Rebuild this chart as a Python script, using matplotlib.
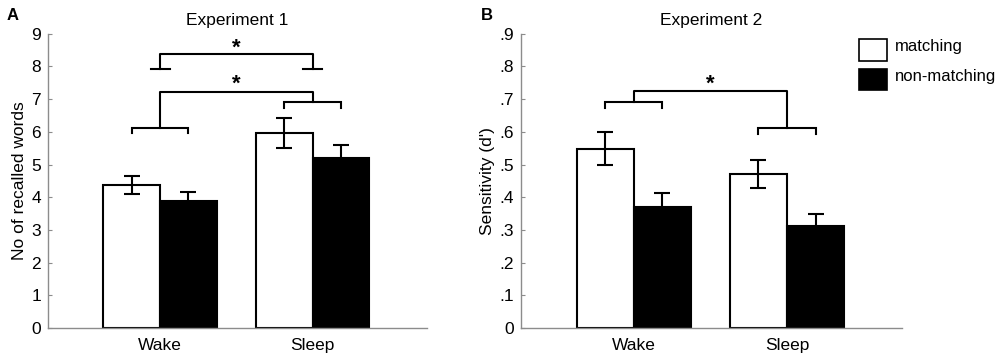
import matplotlib
matplotlib.use('Agg')
import matplotlib.pyplot as plt
from matplotlib.patches import Rectangle

plt.rcParams['font.family'] = ['Liberation Sans', 'DejaVu Sans']

# data
groups = ['Wake', 'Sleep']
exp1_matching = [4.37, 5.97]
exp1_matching_err = [0.28, 0.45]
exp1_nonmatching = [3.88, 5.21]
exp1_nonmatching_err = [0.29, 0.40]

exp2_matching = [0.549, 0.472]
exp2_matching_err = [0.051, 0.043]
exp2_nonmatching = [0.371, 0.312]
exp2_nonmatching_err = [0.043, 0.038]

exp1_ticks = [0, 1, 2, 3, 4, 5, 6, 7, 8, 9]
exp2_ticks = [0, 0.1, 0.2, 0.3, 0.4, 0.5, 0.6, 0.7, 0.8, 0.9]
exp2_ticklabels = ['0', '.1', '.2', '.3', '.4', '.5', '.6', '.7', '.8', '.9']

W = 0.372
FS = 12.5
AXC = '#8c8c8c'

fig = plt.figure(figsize=(10, 3.61), dpi=100)
axA = fig.add_axes([0.048, 0.0914, 0.379, 0.815])
axB = fig.add_axes([0.521, 0.0914, 0.381, 0.815])


def draw_bars(ax, match, match_err, nonmatch, nonmatch_err):
    xs = [1, 2]
    xm = [x - W / 2 for x in xs]
    xn = [x + W / 2 for x in xs]
    ax.bar(xm, match, W, color='white', edgecolor='black', linewidth=1.5, zorder=2)
    ax.bar(xn, nonmatch, W, color='black', edgecolor='black', linewidth=1.5, zorder=2)
    ax.errorbar(xm, match, yerr=match_err, fmt='none', ecolor='black',
                elinewidth=1.5, capsize=6, capthick=1.5, zorder=3)
    ax.errorbar(xn, nonmatch, yerr=nonmatch_err, fmt='none', ecolor='black',
                elinewidth=1.5, capsize=6, capthick=1.5, zorder=3)
    ax.set_xlim(0.265, 2.75)
    ax.set_xticks(xs)
    ax.set_xticklabels(groups, fontsize=FS)
    ax.tick_params(axis='x', length=0, pad=7)
    ax.tick_params(axis='y', direction='in', length=3, color=AXC, labelsize=FS, pad=5)
    for s in ['top', 'right']:
        ax.spines[s].set_visible(False)
    for s in ['left', 'bottom']:
        ax.spines[s].set_color(AXC)
        ax.spines[s].set_linewidth(1.0)


def bracket(ax, x0, x1, y, tick):
    # horizontal with ticks pointing down at both ends
    ax.plot([x0, x0, x1, x1], [y - tick, y, y, y - tick], color='black',
            lw=1.5, solid_joinstyle='miter', zorder=4)


# panel A
draw_bars(axA, exp1_matching, exp1_matching_err, exp1_nonmatching, exp1_nonmatching_err)
axA.set_ylim(0, 9)
axA.set_yticks(exp1_ticks)
axA.set_ylabel('No of recalled words', fontsize=FS, labelpad=3)
axA.set_title('Experiment 1', fontsize=12.5, pad=6)

# upper bracket (matching vs non-matching difference)
axA.plot([1, 1, 2, 2], [7.92, 8.39, 8.39, 7.92], color='black', lw=1.5, zorder=4)
axA.plot([1 - 0.062, 1 + 0.062], [7.92, 7.92], color='black', lw=1.5, zorder=4)
axA.plot([2 - 0.062, 2 + 0.062], [7.92, 7.92], color='black', lw=1.5, zorder=4)
axA.text(1.5, 8.55, '*', ha='center', va='center', fontsize=16, fontweight='bold')
# lower bracket (sleep vs wake)
bracket(axA, 1 - W / 2, 1 + W / 2, 6.13, 0.17)
bracket(axA, 2 - W / 2, 2 + W / 2, 6.91, 0.17)
axA.plot([1, 1, 2, 2], [6.13, 7.23, 7.23, 6.91], color='black', lw=1.5, zorder=4)
axA.text(1.5, 7.45, '*', ha='center', va='center', fontsize=16, fontweight='bold')

# panel B
draw_bars(axB, exp2_matching, exp2_matching_err, exp2_nonmatching, exp2_nonmatching_err)
axB.set_ylim(0, 0.9)
axB.set_yticks(exp2_ticks)
axB.set_yticklabels(exp2_ticklabels)
axB.set_ylabel("Sensitivity (d')", fontsize=FS, labelpad=3)
axB.set_title('Experiment 2', fontsize=12.5, pad=6)

bracket(axB, 1 - W / 2, 1 + W / 2, 0.691, 0.017)
bracket(axB, 2 - W / 2, 2 + W / 2, 0.611, 0.017)
axB.plot([1, 1, 2, 2], [0.691, 0.725, 0.725, 0.611], color='black', lw=1.5, zorder=4)
axB.text(1.5, 0.745, '*', ha='center', va='center', fontsize=16, fontweight='bold')

# panel letters
fig.text(0.0125, 1 - 15.5 / 361, 'A', fontsize=12, fontweight='bold', ha='center', va='center')
fig.text(0.487, 1 - 15.5 / 361, 'B', fontsize=12, fontweight='bold', ha='center', va='center')

# legend
fig.add_artist(Rectangle((0.859, 1 - 61 / 361), 0.028, 22 / 361, transform=fig.transFigure,
                         facecolor='white', edgecolor='black', lw=1.2))
fig.add_artist(Rectangle((0.859, 1 - 90 / 361), 0.028, 21 / 361, transform=fig.transFigure,
                         facecolor='black', edgecolor='black', lw=1.2))
fig.text(0.895, 1 - 47 / 361, 'matching', fontsize=12, ha='left', va='center')
fig.text(0.895, 1 - 77 / 361, 'non-matching', fontsize=12, ha='left', va='center')

fig.savefig('out.png', dpi=100)
